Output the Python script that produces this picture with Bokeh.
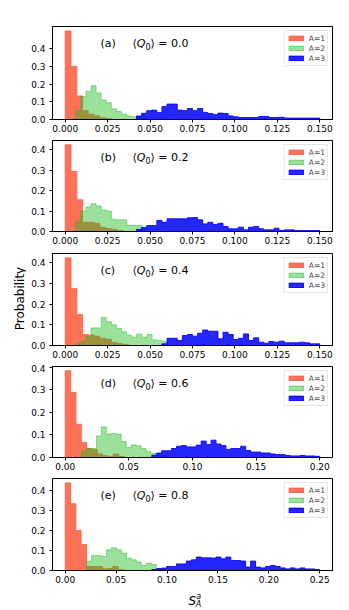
import numpy as np
from bokeh.plotting import figure
from bokeh.layouts import row, column
from bokeh.models import Range1d, FixedTicker, PrintfTickFormatter, Legend, LegendItem, Label, LinearAxis
from bokeh.embed import file_html
from bokeh.resources import INLINE

# ---------------- data ----------------
panel_tags = ["(a)", "(b)", "(c)", "(d)", "(e)"]
q0_values = ["0.0", "0.2", "0.4", "0.6", "0.8"]
series_labels = ["A=1", "A=2", "A=3"]
y_label = "Probability"

x_ticks_abc = [0.0, 0.025, 0.05, 0.075, 0.10, 0.125, 0.15]
x_ticks_d = [0.0, 0.05, 0.10, 0.15, 0.20]
x_ticks_e = [0.0, 0.05, 0.10, 0.15, 0.20, 0.25]
y_ticks = [0.0, 0.1, 0.2, 0.3, 0.4]
x_formats = ["%.3f", "%.3f", "%.3f", "%.2f", "%.2f"]

# bin range (first edge, last edge) and probability per bin
a_red_bins = (0.0, 0.0272)
a_red = [0.50, 0.30, 0.133, 0.05, 0.03, 0.02, 0.01, 0.005]
a_green_bins = (0.0062, 0.0482)
a_green = [0.05, 0.13, 0.16, 0.19, 0.15, 0.11, 0.095, 0.06, 0.045, 0.03, 0.02, 0.015, 0.01, 0.005]
a_blue_bins = (0.042, 0.15)
a_blue = [0.02, 0.035, 0.05, 0.053, 0.04, 0.074, 0.087, 0.087, 0.053, 0.05, 0.062, 0.05,
          0.062, 0.04, 0.034, 0.027, 0.036, 0.034, 0.02, 0.015, 0.011, 0.011, 0.011, 0.011,
          0.017, 0.017, 0.011, 0.011, 0.013, 0.008, 0.008, 0.008, 0.008, 0.008, 0.008, 0.008]

b_red_bins = (0.0, 0.034)
b_red = [0.423, 0.293, 0.155, 0.045, 0.045, 0.04, 0.02, 0.015, 0.01, 0.005]
b_green_bins = (0.0062, 0.0482)
b_green = [0.05, 0.10, 0.12, 0.135, 0.125, 0.105, 0.10, 0.06, 0.057, 0.057, 0.03, 0.03, 0.03, 0.01]
b_blue_bins = (0.042, 0.15)
b_blue = [0.01, 0.02, 0.029, 0.029, 0.054, 0.045, 0.062, 0.062, 0.062, 0.062, 0.067, 0.068,
          0.057, 0.037, 0.045, 0.034, 0.04, 0.024, 0.013, 0.013, 0.021, 0.008, 0.021, 0.024,
          0.013, 0.008, 0.008, 0.016, 0.005, 0.008, 0.008, 0.005, 0.005, 0.005, 0.005, 0.005]

c_red_bins = (0.0, 0.0374)
c_red = [0.423, 0.274, 0.149, 0.053, 0.05, 0.045, 0.035, 0.03, 0.015, 0.01, 0.005]
c_green_bins = (0.0062, 0.0602)
c_green = [0.01, 0.02, 0.045, 0.085, 0.085, 0.135, 0.115, 0.10, 0.082, 0.066, 0.05, 0.04,
           0.056, 0.04, 0.053, 0.027, 0.024, 0.02]
c_blue_bins = (0.057, 0.15)
c_blue = [0.008, 0.035, 0.035, 0.024, 0.048, 0.053, 0.045, 0.059, 0.075, 0.069, 0.069, 0.032,
          0.064, 0.053, 0.029, 0.035, 0.056, 0.024, 0.037, 0.016, 0.011, 0.019, 0.016, 0.021,
          0.013, 0.013, 0.013, 0.016, 0.013, 0.008, 0.008]

d_red_bins = (0.0, 0.0462)
d_red = [0.385, 0.289, 0.148, 0.067, 0.04, 0.035, 0.015, 0.008, 0.005, 0.015, 0.005]
d_green_bins = (0.0128, 0.0791)
d_green = [0.03, 0.04, 0.04, 0.096, 0.136, 0.104, 0.107, 0.104, 0.071, 0.044, 0.056, 0.052,
           0.04, 0.027, 0.018, 0.012, 0.008]
d_blue_bins = (0.068, 0.20)
d_blue = [0.01, 0.02, 0.03, 0.03, 0.04, 0.05, 0.053, 0.047, 0.047, 0.055, 0.073, 0.058,
          0.077, 0.06, 0.053, 0.036, 0.04, 0.04, 0.05, 0.031, 0.024, 0.024, 0.02, 0.02,
          0.016, 0.013, 0.013, 0.009, 0.007, 0.007, 0.009, 0.007, 0.007, 0.005]

e_red_bins = (0.0, 0.0572)
e_red = [0.437, 0.333, 0.2, 0.13, 0.02, 0.02, 0.02, 0.008, 0.01, 0.02, 0.005]
e_green_bins = (0.0209, 0.0944)
e_green = [0.047, 0.075, 0.075, 0.07, 0.103, 0.113, 0.103, 0.087, 0.062, 0.053, 0.042, 0.025,
           0.037, 0.03, 0.008]
e_blue_bins = (0.085, 0.25)
e_blue = [0.005, 0.01, 0.012, 0.02, 0.02, 0.033, 0.033, 0.047, 0.053, 0.067, 0.063, 0.063,
          0.062, 0.067, 0.058, 0.067, 0.05, 0.05, 0.047, 0.017, 0.047, 0.017, 0.013, 0.02,
          0.025, 0.02, 0.013, 0.008, 0.013, 0.008, 0.013, 0.008, 0.008, 0.005]

panels = [
    [(a_red_bins, a_red), (a_green_bins, a_green), (a_blue_bins, a_blue)],
    [(b_red_bins, b_red), (b_green_bins, b_green), (b_blue_bins, b_blue)],
    [(c_red_bins, c_red), (c_green_bins, c_green), (c_blue_bins, c_blue)],
    [(d_red_bins, d_red), (d_green_bins, d_green), (d_blue_bins, d_blue)],
    [(e_red_bins, e_red), (e_green_bins, e_green), (e_blue_bins, e_blue)],
]
x_ticks_all = [x_ticks_abc, x_ticks_abc, x_ticks_abc, x_ticks_d, x_ticks_e]

# ---------------- style ----------------
colors = ["#FF6347", "#22BB22", "#0000FF"]
alphas = [0.9, 0.45, 0.85]
FONT = "DejaVu Sans"
PROB_W = 26
LEFT, RIGHT = 26, 17
FW = 280
WIDTH = LEFT + FW + RIGHT
frame_heights = [93, 91, 92, 91, 92]
top_borders = [26, 2, 2, 2, 2]
bottom_borders = [19, 20, 19, 19, 19]
TOTAL_H = 610


def outline(lim, vals):
    vals = np.asarray(vals, dtype=float)
    edges = np.linspace(lim[0], lim[1], len(vals) + 1)
    xs = np.concatenate([[edges[0]], np.repeat(edges, 2)[1:-1], [edges[-1]]])
    ys = np.concatenate([[0.0], np.repeat(vals, 2), [0.0]])
    return xs, ys


def blank(width, height):
    f = figure(frame_width=width, frame_height=height, x_range=Range1d(0, width), y_range=Range1d(0, height),
               output_backend="svg", toolbar_location=None, min_border=0,
               x_axis_type=None, y_axis_type=None)
    f.outline_line_color = None
    f.grid.visible = False
    f.background_fill_color = "white"
    f.border_fill_color = "white"
    return f


figs = []
for i, series in enumerate(panels):
    lo = min(s[0][0] for s in series)
    hi = max(s[0][1] for s in series)
    span = hi - lo
    x0, x1 = lo - 0.05 * span, hi + 0.05 * span
    ymax = 1.05 * max(max(s[1]) for s in series)
    fh = frame_heights[i]

    p = figure(frame_width=FW, frame_height=fh,
               x_range=Range1d(x0, x1), y_range=Range1d(0, ymax),
               output_backend="svg", toolbar_location=None,
               min_border_left=LEFT, min_border_right=RIGHT,
               min_border_top=top_borders[i], min_border_bottom=bottom_borders[i])
    p.xgrid.visible = False
    p.ygrid.visible = False
    p.outline_line_color = "black"
    p.outline_line_alpha = 1.0
    p.outline_line_width = 1
    p.background_fill_color = "white"
    p.border_fill_color = "white"

    # empty right-hand axis: keeps a fixed right margin
    p.add_layout(LinearAxis(ticker=FixedTicker(ticks=[]), axis_line_color=None,
                            major_tick_line_color=None, minor_tick_line_color=None,
                            major_label_text_font_size="0px"), "right")

    renderers = []
    for (lim, vals), c, a in zip(series, colors, alphas):
        xs, ys = outline(lim, vals)
        r = p.patch(xs, ys, fill_color=c, fill_alpha=a, line_color=c, line_alpha=a, line_width=1)
        renderers.append(r)

    for ax in (p.xaxis[0], p.yaxis[0]):
        ax.axis_line_color = "black"
        ax.major_tick_line_color = "black"
        ax.minor_tick_line_color = None
        ax.major_tick_in = 0
        ax.major_tick_out = 3
        ax.major_label_text_font = FONT
        ax.major_label_text_font_size = "9px"
        ax.major_label_text_color = "black"
    p.xaxis.ticker = FixedTicker(ticks=x_ticks_all[i])
    p.xaxis.formatter = PrintfTickFormatter(format=x_formats[i])
    p.xaxis.major_label_standoff = 2
    p.yaxis[0].ticker = FixedTicker(ticks=y_ticks)
    p.yaxis[0].formatter = PrintfTickFormatter(format="%.1f")
    p.yaxis[0].major_label_standoff = 4

    legend = Legend(items=[LegendItem(label=lab, renderers=[r]) for lab, r in zip(series_labels, renderers)],
                    location="top_right", margin=4, padding=2, spacing=0,
                    label_height=10, glyph_height=6, glyph_width=18, label_standoff=4, label_width=10,
                    label_text_font=FONT, label_text_font_size="7.5px",
                    border_line_color="#cccccc", border_line_width=1,
                    background_fill_color="white", background_fill_alpha=0.8)
    p.add_layout(legend)

    xspan = x1 - x0

    def fx(px):
        return x0 + px / FW * xspan

    def fy(px_from_top):
        return ymax * (1 - px_from_top / fh)

    base = fy(17)
    common = dict(text_font=FONT, text_baseline="alphabetic", text_color="black")
    p.add_layout(Label(x=fx(48), y=base, text=panel_tags[i], text_font_size="11px", **common))
    p.add_layout(Label(x=fx(80), y=base, text="\u27e8", text_font_size="11px", **common))
    p.add_layout(Label(x=fx(84.3), y=base, text="Q", text_font_size="11px", text_font_style="italic", **common))
    p.add_layout(Label(x=fx(93), y=fy(19.5), text="0", text_font_size="8px", **common))
    p.add_layout(Label(x=fx(97.9), y=base, text="\u27e9 = " + q0_values[i], text_font_size="11px", **common))
    figs.append(p)

used_h = sum(t + f + b for t, f, b in zip(top_borders, frame_heights, bottom_borders))
xl_h = TOTAL_H - used_h

# x-axis label  S_A^a  (below panel e)
xl = blank(WIDTH, xl_h)
lab_common = dict(text_font=FONT, text_baseline="alphabetic", text_color="black", text_font_style="italic")
xl.add_layout(Label(x=LEFT + 110, y=xl_h - 11.7, text="S", text_font_size="12px", **lab_common))
xl.add_layout(Label(x=LEFT + 117.3, y=xl_h - 15.2, text="A", text_font_size="8px", **lab_common))
xl.add_layout(Label(x=LEFT + 117.8, y=xl_h - 6.8, text="a", text_font_size="8px", **lab_common))

# y-axis label (beside panel c)
yl = blank(PROB_W, TOTAL_H)
yl.add_layout(Label(x=19, y=TOTAL_H - 298, text=y_label, angle=np.pi / 2, text_align="center",
                    text_baseline="middle", text_font=FONT, text_font_size="12px", text_color="black"))

layout = row(yl, column(*figs, xl, spacing=0), spacing=0)
open("out.html", "w").write(file_html(layout, INLINE))
